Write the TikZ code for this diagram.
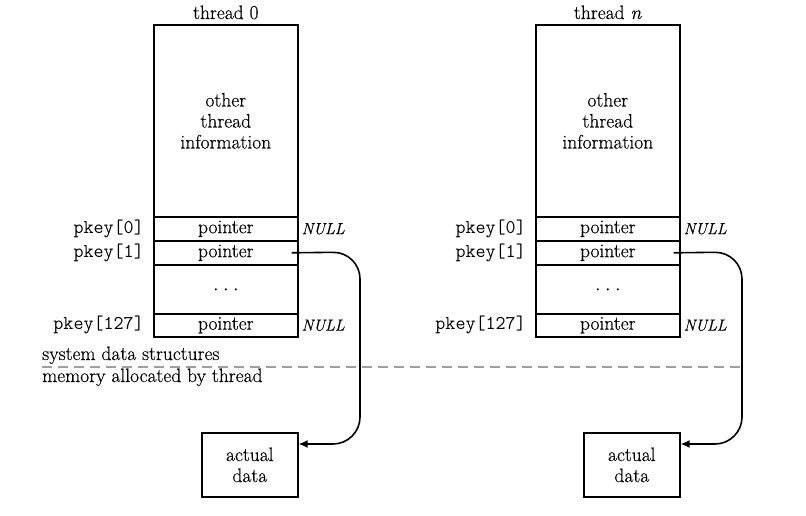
\documentclass[tikz,border=0pt]{standalone}
\usepackage{fontspec}
\setmainfont{Latin Modern Roman}[FakeBold=0.4]
\usetikzlibrary{arrows.meta}
\begin{document}
\begin{tikzpicture}[x=1pt,y=-1pt,
  txt/.style={font=\fontsize{19.5}{21}\selectfont},
  cell/.style={draw, line width=1.6pt, minimum width=144pt, inner sep=0pt, anchor=north west, txt, align=center},
  dotcell/.style={cell, font=\fontsize{24}{24}\selectfont},
  keylab/.style={anchor=east, inner sep=0pt, font=\ttfamily\fontsize{19.5}{19.5}\selectfont},
  nulllab/.style={anchor=west, inner sep=0pt, font=\itshape\fontsize{16}{16}\selectfont},
  datbox/.style={draw, line width=1.6pt, minimum width=96pt, minimum height=64pt, inner sep=0pt, anchor=north west, txt, align=center},
  conn/.style={line width=1.6pt, rounded corners=27pt, -{Latex[length=9pt,width=8pt]}},
  sep/.style={gray!75, line width=1.3pt, dash pattern=on 10pt off 6pt}]
\useasboundingbox (0,0) rectangle (806,515);
% thread 0
\node[cell, minimum height=192pt] (i0) at (153,24) {other\\thread\\information};
\node[cell, minimum height=24pt] (a0) at (153,216) {pointer};
\node[cell, minimum height=24pt] (b0) at (153,240) {pointer};
\node[dotcell, minimum height=49pt] (c0) at (153,264) {.\hspace{4pt}.\hspace{4pt}.};
\node[cell, minimum height=23pt] (e0) at (153,313) {pointer};
\node[txt, anchor=base, inner sep=0pt] (h0) at ([yshift=5pt]i0.north) {thread 0};
\node[keylab] (ka0) at ([xshift=-9pt]a0.west) {pkey[0]};
\node[keylab] (kb0) at ([xshift=-9pt]b0.west) {pkey[1]};
\node[keylab] (ke0) at ([xshift=-9pt]e0.west) {pkey[127]};
\node[nulllab] (na0) at ([xshift=3pt]a0.east) {NULL};
\node[nulllab] (ne0) at ([xshift=3pt]e0.east) {NULL};
\node[datbox] (d0) at (201,432) {actual\\data};
% thread n
\node[cell, minimum height=192pt] (i1) at (535,24) {other\\thread\\information};
\node[cell, minimum height=24pt] (a1) at (535,216) {pointer};
\node[cell, minimum height=24pt] (b1) at (535,240) {pointer};
\node[dotcell, minimum height=49pt] (c1) at (535,264) {.\hspace{4pt}.\hspace{4pt}.};
\node[cell, minimum height=23pt] (e1) at (535,313) {pointer};
\node[txt, anchor=base, inner sep=0pt] (h1) at ([yshift=5pt]i1.north) {thread \textit{n}};
\node[keylab] (ka1) at ([xshift=-9pt]a1.west) {pkey[0]};
\node[keylab] (kb1) at ([xshift=-9pt]b1.west) {pkey[1]};
\node[keylab] (ke1) at ([xshift=-9pt]e1.west) {pkey[127]};
\node[nulllab] (na1) at ([xshift=3pt]a1.east) {NULL};
\node[nulllab] (ne1) at ([xshift=3pt]e1.east) {NULL};
\node[datbox] (d1) at (583,432) {actual\\data};
% separator
\coordinate (sl) at (42,367);
\coordinate (sr) at (745,367);
\draw[sep] (sl) -- (sr);
\node[txt, anchor=base west, inner sep=0pt] (sys) at ([yshift=7pt]sl) {system data structures};
\node[txt, anchor=base west, inner sep=0pt] (mem) at ([yshift=-15pt]sl) {memory allocated by thread};
% connectors
\coordinate (s0) at ([xshift=-7pt]b0.east);
\coordinate (k0) at (360,252);
\coordinate (t0) at ([yshift=-12pt]d0.north east);
\draw[conn] (s0) -- (k0) |- (t0);
\coordinate (s1) at ([xshift=-7pt]b1.east);
\coordinate (k1) at (742,252);
\coordinate (t1) at ([yshift=-12pt]d1.north east);
\draw[conn] (s1) -- (k1) |- (t1);
\end{tikzpicture}
\end{document}
